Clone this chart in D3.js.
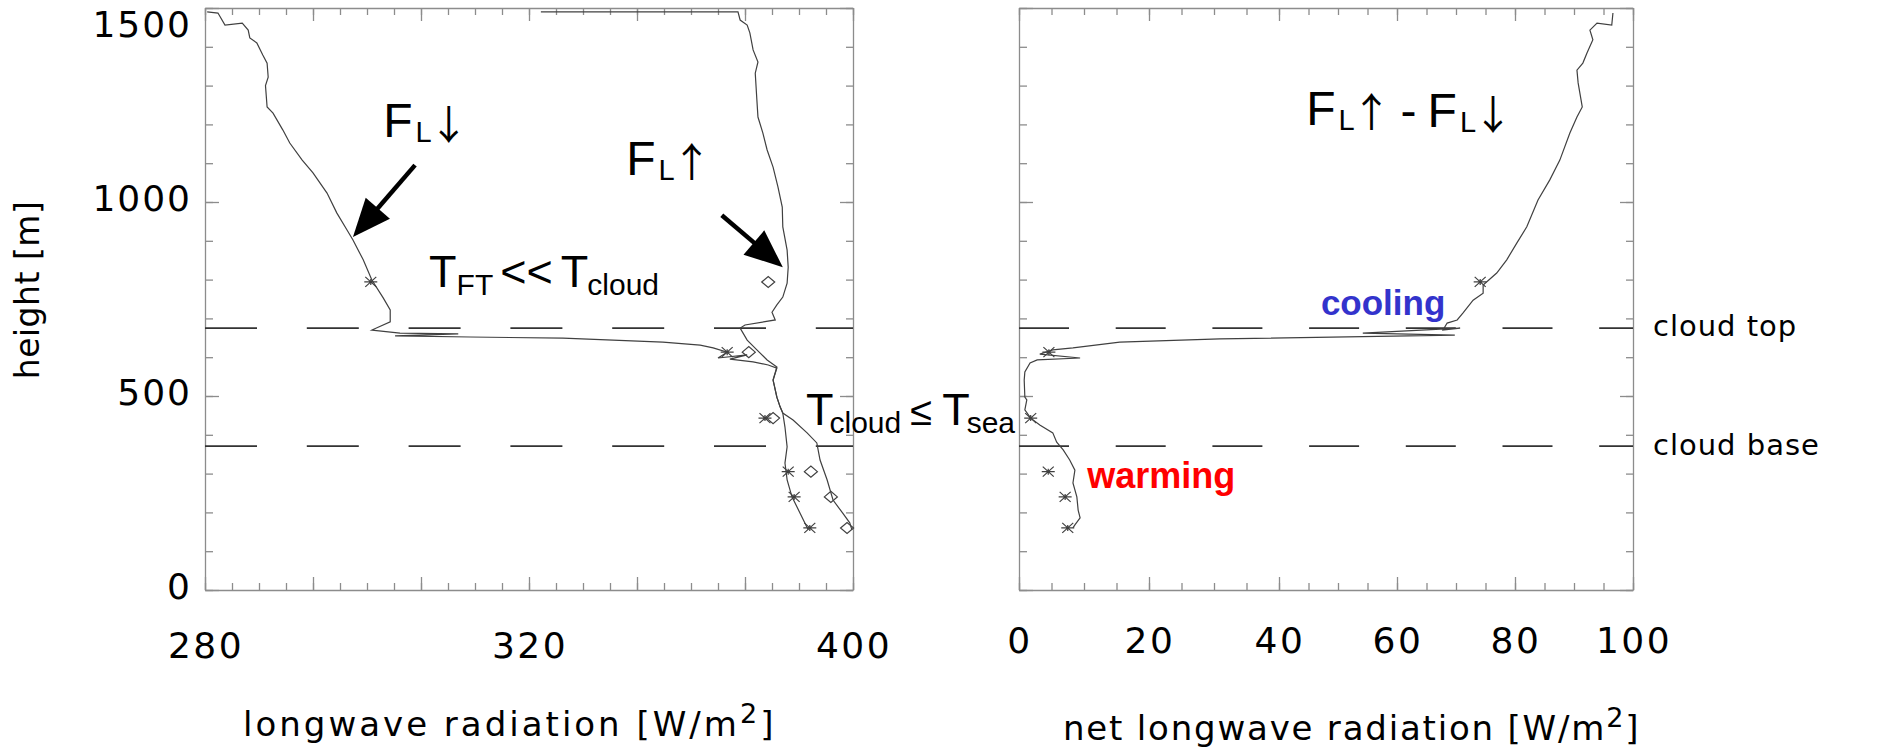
<!DOCTYPE html>
<html>
<head>
<meta charset="utf-8">
<script src="https://cdn.jsdelivr.net/npm/d3@7"></script>
<style>
body { margin: 0; background: #fff; }
text { fill: #000; }
.lbl { font-family: 'DejaVu Sans', sans-serif; }
.ann { font-family: 'Liberation Sans', Arial, sans-serif; }
.arr { font-family: 'Noto Sans CJK JP', 'DejaVu Sans', sans-serif; }
.axis path, .axis line { stroke: #8c8c8c; stroke-width: 1.3; fill: none; }
.curve { fill: none; stroke: #404040; stroke-width: 1.2; }
.mark { fill: none; stroke: #404040; stroke-width: 1.2; }
.cloud { stroke: #333; stroke-width: 1.8; }
</style>
</head>
<body>
<svg id="chart" width="1878" height="753"></svg>
<script>
// profiles: [W/m2, height m]
var downFlux = [
  [280.4,1490],[282.4,1487],[283.7,1456],[286.9,1461],[288.0,1443],[288.3,1423],[289.6,1410],
  [290.7,1379],[291.5,1358],[291.7,1322],[291.2,1300],[291.5,1245],[292.6,1229],[294.4,1186],
  [295.7,1152],[298.0,1108],[300.0,1075],[302.6,1023],[304.4,972],[306.3,928],[307.4,902],
  [309.3,851],[310.9,799],[313.0,753],[314.3,722],[314.3,691],[310.9,670],[316.1,662],
  [326.9,660],[315.2,655],[329.1,652],[346.3,649],[364.8,639],[371.7,631],[374.1,624],
  [376.7,613],[375.0,598],[380.4,606],[377.2,595],[381.5,588],[384.3,580],[385.9,572],
  [385.2,541],[385.9,497],[386.5,472],[387.0,456],[387.4,420],[387.8,369],[387.4,327],
  [387.8,284],[388.7,240],[390.2,198],[391.7,155]
]
var upFlux = [
  [342.2,1490],[378.7,1490],[379.1,1469],[380.4,1456],[380.9,1436],[381.5,1392],[382.4,1361],
  [381.9,1332],[382.2,1263],[382.4,1219],[383.3,1178],[384.1,1134],[385.2,1090],[386.1,1039],
  [386.9,987],[387.0,936],[387.8,876],[388.0,832],[387.8,791],[387.0,755],[385.9,735],
  [385.0,716],[385.6,696],[380.0,683],[379.1,675],[380.4,644],[382.2,619],[384.1,593],
  [385.9,575],[385.2,541],[385.9,497],[386.5,472],[387.0,456],[388.9,438],[391.5,405],
  [393.3,379],[393.9,335],[395.2,284],[396.3,232],[398.1,198],[399.4,173],[399.8,155]
]
var netFlux = [
  [96.6,1487],[96.4,1456],[93.9,1461],[92.7,1443],[93.2,1418],[92.2,1384],[91.5,1358],
  [90.5,1340],[90.7,1307],[91.4,1245],[90.5,1219],[89.3,1178],[87.6,1108],[85.9,1057],
  [83.9,1005],[82.0,936],[80.3,894],[78.6,851],[76.9,817],[74.6,786],[74.6,765],[72.9,747],
  [71.2,714],[70.2,696],[68.5,688],[67.8,670],[70.7,675],[54.2,662],[69.8,657],[30.9,647],
  [15.5,639],[8.3,624],[5.2,619],[3.2,608],[9.4,598],[2.8,593],[1.7,585],[0.9,562],
  [0.8,541],[0.9,497],[1.2,490],[0.9,464],[1.8,443],[3.2,425],[5.2,405],[5.8,381],
  [6.8,361],[7.8,335],[8.6,309],[8.3,276],[8.9,240],[9.1,206],[9.4,186],[8.6,168],[8.3,160]
]
var markHeights = [794, 613, 443, 305, 240, 160]
var downMarks = [310.7, 376.7, 383.7, 388.0, 389.1, 392.0]
var upMarks = [384.3, 380.7, 385.2, 392.2, 395.9, 398.9]
var netMarks = [74.1, 4.6, 1.8, 4.5, 7.1, 7.5]

var cloudTop = 675
var cloudBase = 371

var heightLabels = [0, 500, 1000, 1500]
var leftLabels = [[280, '280'], [340, '320'], [400, '400']]
var rightLabels = [0, 20, 40, 60, 80, 100]

// annotation arrows, [from, to] in data units
var leftArrows = [[[318.9, 1095], [307.4, 910]], [[375.7, 966], [387.0, 832]]]

var svg = d3.select('#chart')
svg.append('rect').attr('width', 1878).attr('height', 753).attr('fill', '#fff')

var y = d3.scaleLinear().domain([0, 1500]).range([590, 8])
var xL = d3.scaleLinear().domain([280, 400]).range([205, 853])
var xR = d3.scaleLinear().domain([0, 40, 100]).range([1019, 1279, 1633])

function frame(x, nMinor, nMajor){
  var g = svg.append('g').attr('class', 'axis')
  var x0 = x.range()[0], x1 = x.range()[x.range().length - 1]
  var add = (axis, tr, vals, size, keepDomain) => {
    var a = g.append('g').attr('transform', tr)
      .call(axis.tickValues(vals).tickSize(-size).tickSizeOuter(0).tickFormat(''))
    if (!keepDomain) a.select('.domain').remove()
  }
  add(d3.axisBottom(x), `translate(0,${y(0)})`, x.ticks(nMinor), 7, true)
  add(d3.axisBottom(x), `translate(0,${y(0)})`, x.ticks(nMajor), 13)
  add(d3.axisTop(x), `translate(0,${y(1500)})`, x.ticks(nMinor), 7, true)
  add(d3.axisTop(x), `translate(0,${y(1500)})`, x.ticks(nMajor), 13)
  add(d3.axisLeft(y), `translate(${x0},0)`, y.ticks(15), 8, true)
  add(d3.axisLeft(y), `translate(${x0},0)`, heightLabels, 14)
  add(d3.axisRight(y), `translate(${x1},0)`, y.ticks(15), 7, true)
  add(d3.axisRight(y), `translate(${x1},0)`, heightLabels, 13)
}

function cloudLines(x, dash){
  [cloudTop, cloudBase].forEach(h => {
    svg.append('line').attr('class', 'cloud')
      .attr('x1', x.range()[0]).attr('x2', x.range()[x.range().length - 1])
      .attr('y1', y(h)).attr('y2', y(h))
      .attr('stroke-dasharray', dash)
  })
}

function star(sel, x, vals){
  sel.selectAll(null).data(vals).join('path').attr('class', 'mark')
    .attr('transform', (d, i) => `translate(${x(d)},${y(markHeights[i])})`)
    .attr('d', 'M-6.5,0H6.5M-5.5,-5L5.5,5M-5.5,5L5.5,-5M0,-3V3')
}

function diamond(sel, x, vals){
  sel.selectAll(null).data(vals).join('path').attr('class', 'mark')
    .attr('transform', (d, i) => `translate(${x(d)},${y(markHeights[i])})`)
    .attr('d', 'M-6.5,0L0,-5.5L6.5,0L0,5.5Z')
}

function arrow(x, p0, p1){
  var a = [x(p0[0]), y(p0[1])], b = [x(p1[0]), y(p1[1])]
  var len = Math.hypot(b[0] - a[0], b[1] - a[1])
  var ux = (b[0] - a[0]) / len, uy = (b[1] - a[1]) / len
  var hl = 38, hw = 16
  var c = [b[0] - ux * hl, b[1] - uy * hl]
  svg.append('line').attr('x1', a[0]).attr('y1', a[1])
    .attr('x2', c[0] + ux * 4).attr('y2', c[1] + uy * 4)
    .attr('stroke', '#000').attr('stroke-width', 4.5)
  svg.append('path').attr('fill', '#000')
    .attr('d', `M${b[0]},${b[1]}L${c[0] - uy * hw},${c[1] + ux * hw}L${c[0] + uy * hw},${c[1] - ux * hw}Z`)
}

var line = x => d3.line().x(d => x(d[0])).y(d => y(d[1]))

// left panel
frame(xL, 24, 6)
cloudLines(xL, '52 49.8')
svg.append('path').attr('class', 'curve').attr('d', line(xL)(downFlux))
svg.append('path').attr('class', 'curve').attr('d', line(xL)(upFlux))
star(svg.append('g'), xL, downMarks)
diamond(svg.append('g'), xL, upMarks)
leftArrows.forEach(d => arrow(xL, d[0], d[1]))

// right panel
frame(xR, 20, 5)
cloudLines(xR, '50 46.7')
svg.append('path').attr('class', 'curve').attr('d', line(xR)(netFlux))
star(svg.append('g'), xR, netMarks)

// tick labels
svg.append('g').attr('class', 'lbl').selectAll('text').data(heightLabels).join('text')
  .attr('x', 192).attr('y', d => Math.max(y(d) + 9, 37))
  .attr('text-anchor', 'end').attr('font-size', 36).attr('letter-spacing', 2)
  .text(d => d)
svg.append('g').attr('class', 'lbl').selectAll('text').data(leftLabels).join('text')
  .attr('x', d => xL(d[0]) + 1).attr('y', 658)
  .attr('text-anchor', 'middle').attr('font-size', 36).attr('letter-spacing', 2.5)
  .text(d => d[1])
svg.append('g').attr('class', 'lbl').selectAll('text').data(rightLabels).join('text')
  .attr('x', d => xR(d) + 1).attr('y', 653)
  .attr('text-anchor', 'middle').attr('font-size', 36).attr('letter-spacing', 2.5)
  .text(d => d)

// axis titles
function title(x0, yb, ls, label){
  var t = svg.append('text').attr('class', 'lbl').attr('x', x0).attr('y', yb)
    .attr('font-size', 34).attr('letter-spacing', ls)
  t.append('tspan').text(label + ' [W/m')
  t.append('tspan').attr('font-size', 27).attr('dy', -13).text('2')
  t.append('tspan').attr('dy', 13).text(']')
}
title(xL.range()[0] + 38, 736, 3, 'longwave radiation')
title(xR.range()[0] + 44, 740, 1.8, 'net longwave radiation')

svg.append('text').attr('class', 'lbl')
  .attr('transform', 'translate(39,290) rotate(-90)')
  .attr('text-anchor', 'middle').attr('font-size', 33).attr('letter-spacing', 0.5)
  .text('height [m]')

svg.append('text').attr('class', 'lbl').attr('x', xR.range()[2] + 20).attr('y', y(cloudTop) + 8)
  .attr('font-size', 29).attr('letter-spacing', 1).text('cloud top')
svg.append('text').attr('class', 'lbl').attr('x', xR.range()[2] + 20).attr('y', y(cloudBase) + 9)
  .attr('font-size', 29).attr('letter-spacing', 1).text('cloud base')

// flux labels
function flux(x, v, h, parts){
  var t = svg.append('text').attr('class', 'ann').attr('x', x(v)).attr('y', y(h)).attr('font-size', 48)
  parts.forEach((p, i) => {
    if (i > 0) t.append('tspan').attr('dx', 9).text('-')
    t.append('tspan').attr('dx', i > 0 ? 11 : 0).text('F')
    t.append('tspan').attr('font-size', 29).attr('dy', 5).attr('dx', 3).text('L')
    t.append('tspan').attr('class', 'arr').attr('font-size', 40).attr('dy', -3).attr('dx', -3).text(p)
    t.append('tspan').attr('font-size', 48).attr('dy', -2).text('')
  })
}
flux(xL, 313.0, 1168, ['↓'])
flux(xL, 358.0, 1070, ['↑'])
flux(xR, 44.6, 1198, ['↑', '↓'])

var tft = svg.append('text').attr('class', 'ann').attr('x', xL(321.5)).attr('y', y(781)).attr('font-size', 45)
tft.append('tspan').text('T')
tft.append('tspan').attr('font-size', 30).attr('dy', 8).text('FT')
tft.append('tspan').attr('dy', -8).attr('dx', 7).text('<<')
tft.append('tspan').attr('dx', 8).text('T')
tft.append('tspan').attr('font-size', 30).attr('dy', 8).attr('dx', -1).text('cloud')

var tsea = svg.append('text').attr('class', 'ann').attr('x', xL(391.3)).attr('y', y(425)).attr('font-size', 45)
tsea.append('tspan').text('T')
tsea.append('tspan').attr('font-size', 30).attr('dy', 8).attr('dx', -4).text('cloud')
tsea.append('tspan').attr('font-size', 40).attr('dy', -8).attr('dx', 9).text('≤')
tsea.append('tspan').attr('dx', 10).text('T')
tsea.append('tspan').attr('font-size', 30).attr('dy', 8).attr('dx', -3).text('sea')

svg.append('text').attr('class', 'ann').attr('x', xR(47.1)).attr('y', y(709))
  .attr('font-size', 35).attr('font-weight', 'bold').style('fill', '#3333cc')
  .text('cooling')
svg.append('text').attr('class', 'ann').attr('x', xR(10.5)).attr('y', y(263))
  .attr('font-size', 36).attr('font-weight', 'bold').style('fill', '#ff0000')
  .text('warming')
</script>
</body>
</html>
